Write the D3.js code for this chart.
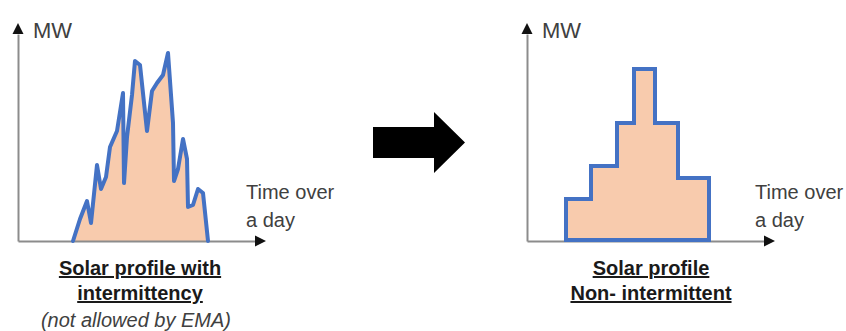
<!DOCTYPE html>
<html>
<head>
<meta charset="utf-8">
<script src="https://cdn.jsdelivr.net/npm/d3@7"></script>
<style>
  body { margin: 0; background: #fff; }
  text { font-family: "Liberation Sans", Arial, sans-serif; }
</style>
</head>
<body>
<div id="graphic" width="846" height="331"></div>
<script>
// values: hour of the day and output (MW on a 0-100 scale)
let intermittentHours = [5.5, 6.2, 6.9, 7.3, 7.9, 8.3, 8.8, 9.2, 9.9, 10.5, 10.6, 10.9, 11.4, 11.7, 12.2,
                         12.9, 13.4, 13.9, 14.5, 15.0, 15.5, 15.6, 16.0, 16.5, 16.9, 17.0, 17.5, 18.0, 18.5, 19.0];
let intermittentMW = [0, 11, 20, 9, 38, 26, 32, 47, 55, 74, 29, 52, 73, 90, 88,
                      55, 75, 79, 83, 94, 59, 30, 36, 51, 41, 17, 18, 26, 24, 0];

// block edges (hours) and the flat output for each block
let blockEdges = [3.9, 6.4, 9.0, 10.7, 12.8, 15.1, 18.2];
let blockMW = [21, 37.5, 59, 86, 59, 31.5];

let yLabel = "MW";
let xLabel = ["Time over", "a day"];
let leftCaption = ["Solar profile with", "intermittency"];
let leftNote = "(not allowed by EMA)";
let rightCaption = ["Solar profile", "Non- intermittent"];

let width = 846, height = 331;
let svg = d3.select("#graphic")
  .append("svg")
    .attr("width", width)
    .attr("height", height);

svg.append("rect").attr("width", width).attr("height", height).attr("fill", "#fff");

let lineColor = "#4472c4", fillColor = "#f8cbad";

// draws axes + labels for one little panel, returns the scales
function drawPanel(x0) {
  let x = d3.scaleLinear().domain([0, 23.7]).range([x0, x0 + 237]);
  let y = d3.scaleLinear().domain([0, 103.5]).range([241, 34]);
  let g = svg.append("g");

  g.append("g")
    .attr("transform", "translate(0," + y(0) + ")")
    .call(d3.axisBottom(x).tickValues([]).tickSizeOuter(0))
    .select(".domain").attr("stroke", "#8c8c8c").attr("stroke-width", 2);
  g.append("g")
    .attr("transform", "translate(" + x(0) + ",0)")
    .call(d3.axisLeft(y).tickValues([]).tickSizeOuter(0))
    .select(".domain").attr("stroke", "#8c8c8c").attr("stroke-width", 2);

  // arrow heads
  let top = y.range()[1], right = x.range()[1];
  g.append("path")
    .attr("d", `M${x(0)},${top - 11}L${x(0) - 5.5},${top}L${x(0) + 5.5},${top}Z`)
    .attr("fill", "#111");
  g.append("path")
    .attr("d", `M${right + 11},${y(0)}L${right},${y(0) - 5.5}L${right},${y(0) + 5.5}Z`)
    .attr("fill", "#111");

  g.append("text")
    .attr("x", x0 + 15).attr("y", 38)
    .attr("fill", "#404040").style("font-size", "22px")
    .text(yLabel);

  g.selectAll(".xlab")
    .data(xLabel)
    .enter()
    .append("text")
      .attr("x", x0 + 228)
      .attr("y", (d, i) => 199 + i * 28)
      .attr("fill", "#404040").style("font-size", "20px")
      .text(d => d);

  return {x: x, y: y, g: g};
}

// left: spiky profile
let left = drawPanel(18);
let spiky = intermittentHours.map((h, i) => ({h: h, mw: intermittentMW[i]}));
left.g.insert("path", "g")
  .datum(spiky)
  .attr("fill", fillColor)
  .attr("d", d3.area().x(d => left.x(d.h)).y0(left.y(0)).y1(d => left.y(d.mw)));
left.g.append("path")
  .datum(spiky)
  .attr("fill", "none")
  .attr("stroke", lineColor)
  .attr("stroke-width", 4)
  .attr("stroke-linejoin", "round")
  .attr("stroke-linecap", "round")
  .attr("d", d3.line().x(d => left.x(d.h)).y(d => left.y(d.mw)));

// right: block profile
let right = drawPanel(527);
let blocks = blockEdges.map((h, i) => ({h: h, mw: blockMW[Math.min(i, blockMW.length - 1)]}));
right.g.append("path")
  .datum(blocks)
  .attr("fill", fillColor)
  .attr("stroke", lineColor)
  .attr("stroke-width", 4)
  .attr("d", d3.area().curve(d3.curveStepAfter)
    .x(d => right.x(d.h)).y0(right.y(0) - 1).y1(d => right.y(d.mw)));

// big arrow between panels
svg.append("path")
  .attr("d", "M373,127H434V112L465,142.5L434,173V158H373Z")
  .attr("fill", "#000");

// captions
function caption(lines, cx) {
  svg.selectAll(null)
    .data(lines)
    .enter()
    .append("text")
      .attr("x", cx)
      .attr("y", (d, i) => 275 + i * 25)
      .attr("text-anchor", "middle")
      .attr("fill", "#1a1a1a")
      .style("font-size", "20px")
      .style("font-weight", "bold")
      .style("text-decoration", "underline")
      .text(d => d);
}
caption(leftCaption, 140);
caption(rightCaption, 651);

svg.append("text")
  .attr("x", 136).attr("y", 327)
  .attr("text-anchor", "middle")
  .attr("fill", "#404040")
  .style("font-size", "20px")
  .style("font-style", "italic")
  .text(leftNote);
</script>
</body>
</html>
